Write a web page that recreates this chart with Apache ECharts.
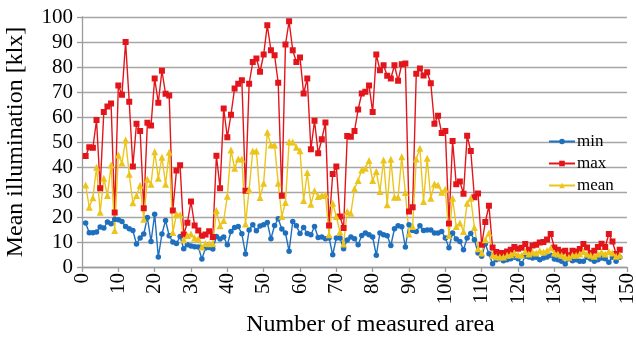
<!DOCTYPE html>
<html>
<head>
<meta charset="utf-8">
<script src="https://cdn.jsdelivr.net/npm/echarts@6/dist/echarts.min.js"></script>
<style>
  html, body { margin: 0; padding: 0; background: #ffffff; }
  #chart { width: 636px; height: 339px; }
</style>
</head>
<body>
<div id="chart"></div>
<script>
// Minimum illuminance per measured area [klx], areas 1..148
const minValues = [
  17.6, 13.7, 13.7, 14.0, 16.0, 15.6, 18.0, 17.3, 19.1, 18.9,
  18.2, 16.2, 15.3, 14.6, 9.2, 11.6, 13.2, 19.8, 10.2, 21.1,
  4.0, 13.2, 18.6, 12.5, 10.0, 9.4, 12.2, 7.3, 8.9, 8.4,
  8.1, 8.0, 3.2, 7.6, 7.8, 7.2, 12.2, 11.2, 12.0, 8.9,
  14.2, 15.8, 16.2, 13.3, 5.2, 14.8, 16.9, 14.5, 16.4, 16.9,
  17.8, 11.3, 16.6, 19.3, 15.2, 13.6, 6.3, 18.2, 16.5, 13.4,
  15.8, 13.4, 12.9, 16.2, 11.8, 12.0, 11.3, 11.6, 4.9, 11.6,
  11.6, 7.3, 10.8, 12.0, 11.3, 8.9, 12.6, 13.6, 12.9, 12.0,
  4.7, 13.6, 12.9, 12.5, 8.6, 15.3, 16.5, 16.1, 8.0, 16.9,
  14.6, 14.2, 16.5, 14.6, 14.8, 14.8, 13.6, 13.6, 14.2, 11.6,
  7.7, 13.6, 11.2, 10.2, 6.9, 11.6, 13.4, 10.9, 5.6, 4.3,
  9.2, 5.3, 1.3, 2.9, 3.3, 2.5, 2.9, 3.3, 3.9, 3.3,
  1.3, 4.3, 4.0, 3.6, 3.9, 2.9, 3.6, 4.0, 4.7, 3.2,
  2.9, 2.3, 1.2, 3.3, 2.5, 2.9, 2.3, 2.3, 3.9, 3.2,
  2.3, 2.9, 3.6, 3.3, 1.9, 3.9, 2.3, 3.9
];

// Maximum illuminance per measured area [klx]
const maxValues = [
  44.4, 47.9, 47.7, 58.8, 31.5, 62.0, 64.2, 65.4, 21.8, 72.6,
  68.9, 90.0, 66.1, 40.2, 57.3, 54.4, 23.5, 57.7, 56.6, 75.4,
  65.7, 78.5, 69.3, 68.6, 22.6, 38.6, 40.7, 13.0, 17.7, 26.2,
  16.6, 14.6, 12.5, 13.0, 14.3, 12.0, 44.5, 31.5, 63.4, 51.9,
  60.9, 71.4, 73.3, 74.7, 30.5, 73.3, 82.0, 83.4, 78.1, 85.0,
  96.7, 86.7, 84.7, 73.7, 28.5, 89.0, 98.3, 86.7, 82.0, 83.8,
  69.4, 75.4, 47.1, 58.5, 45.5, 51.1, 57.8, 16.6, 37.2, 40.2,
  20.2, 15.6, 52.4, 52.1, 54.4, 63.0, 69.4, 70.1, 72.6, 62.0,
  85.0, 78.7, 80.7, 76.5, 75.4, 80.7, 74.5, 81.1, 81.4, 22.2,
  23.9, 77.3, 79.4, 76.6, 77.9, 73.5, 57.3, 60.5, 53.6, 54.4,
  17.4, 50.4, 33.1, 34.2, 29.3, 52.5, 46.4, 27.9, 29.4, 8.9,
  18.0, 24.5, 7.8, 6.0, 5.6, 5.6, 6.2, 6.9, 8.0, 7.3,
  7.7, 9.2, 6.9, 8.6, 8.9, 9.8, 10.0, 11.0, 13.2, 7.8,
  6.9, 6.1, 6.5, 4.7, 6.5, 6.2, 7.2, 9.2, 7.8, 5.6,
  6.5, 8.0, 9.3, 8.0, 13.2, 10.2, 5.2, 6.9
];

// Mean illuminance per measured area [klx]
const meanValues = [
  32.8, 23.9, 27.7, 39.9, 21.9, 35.5, 28.6, 40.8, 14.6, 44.8,
  41.6, 50.8, 37.1, 25.7, 28.6, 32.7, 19.1, 35.1, 33.1, 46.1,
  35.5, 43.9, 33.1, 45.9, 13.8, 21.1, 20.9, 10.9, 12.6, 13.2,
  11.6, 11.3, 8.0, 9.4, 9.3, 9.4, 22.6, 16.5, 18.6, 28.3,
  46.8, 39.5, 43.2, 43.2, 17.2, 30.9, 46.4, 46.4, 27.8, 33.5,
  53.9, 48.8, 48.8, 33.5, 20.2, 25.8, 50.1, 50.0, 47.9, 46.5,
  26.6, 37.8, 25.1, 30.5, 28.2, 28.6, 28.9, 12.9, 25.5, 20.2,
  14.0, 9.2, 22.2, 21.5, 31.3, 34.6, 38.8, 39.5, 42.6, 34.6,
  38.2, 30.2, 42.8, 24.9, 43.1, 27.9, 27.9, 44.1, 29.8, 13.2,
  16.2, 43.2, 47.5, 26.2, 43.5, 27.5, 33.2, 32.8, 29.9, 31.1,
  12.6, 27.5, 16.2, 17.6, 14.2, 25.5, 27.5, 15.8, 7.3, 5.6,
  10.9, 13.6, 4.7, 4.1, 4.0, 4.0, 4.7, 4.9, 5.6, 4.9,
  4.7, 6.2, 5.2, 6.0, 5.6, 6.5, 6.0, 6.6, 7.6, 5.6,
  5.2, 4.7, 4.0, 3.9, 4.7, 4.7, 5.2, 6.2, 5.2, 4.7,
  4.3, 5.2, 6.0, 5.2, 6.2, 5.6, 4.3, 4.7
];

// Axis ticks
const xTicks = { min: 0, max: 150, step: 10 };
const yTicks = { min: 0, max: 100, step: 10 };

const serif = '"Liberation Serif", "Times New Roman", serif';

// area number (1-based) paired with its value
function pairs(values) {
  return values.map((v, k) => [k + 1, v]);
}

function lineSeries(name, values, color, symbol, size) {
  return {
    name: name,
    type: 'line',
    data: pairs(values),
    symbol: symbol,
    symbolSize: size,
    showSymbol: true,
    lineStyle: { color: color, width: 1.4 },
    itemStyle: { color: color, borderWidth: 0 },
    emphasis: { disabled: true },
    animation: false
  };
}

const chart = echarts.init(document.getElementById('chart'), null, { renderer: 'canvas' });

chart.setOption({
  backgroundColor: '#ffffff',
  animation: false,
  textStyle: { fontFamily: serif, color: '#000' },
  grid: {
    left: 82, right: 9, top: 17, bottom: 72,
    containLabel: false,
    outerBoundsMode: 'none'
  },
  legend: {
    orient: 'vertical',
    left: 543,
    top: 128,
    itemWidth: 26,
    itemHeight: 7,
    itemGap: 5,
    textStyle: { fontFamily: serif, fontSize: 17, color: '#000', padding: [0, 0, 0, -3] },
    data: ['min', 'max', 'mean']
  },
  xAxis: {
    type: 'value',
    min: xTicks.min,
    max: xTicks.max,
    interval: xTicks.step,
    name: 'Number of measured area',
    nameLocation: 'middle',
    nameGap: 46,
    nameTextStyle: { fontFamily: serif, fontSize: 24, color: '#000', padding: [0, 0, 0, 32] },
    axisLine: { show: true, lineStyle: { color: '#9a9a9a', width: 1.3 } },
    axisTick: { show: true, length: 5, lineStyle: { color: '#9a9a9a', width: 1.3 } },
    axisLabel: { rotate: 90, fontFamily: serif, fontSize: 21, color: '#000', margin: 6 },
    splitLine: { show: false }
  },
  yAxis: {
    type: 'value',
    min: yTicks.min,
    max: yTicks.max,
    interval: yTicks.step,
    name: 'Mean illumination [klx]',
    nameLocation: 'middle',
    nameGap: 54,
    nameTextStyle: { fontFamily: serif, fontSize: 24, color: '#000' },
    axisLine: { show: true, lineStyle: { color: '#9a9a9a', width: 1.3 } },
    axisTick: { show: true, length: 5, lineStyle: { color: '#9a9a9a', width: 1.3 } },
    axisLabel: { fontFamily: serif, fontSize: 21, color: '#000', margin: 9 },
    splitLine: { show: true, lineStyle: { color: '#a6a6a6', width: 1.3 } }
  },
  series: [
    lineSeries('min', minValues, '#1f6fbf', 'circle', 5.5),
    lineSeries('max', maxValues, '#e3151b', 'rect', 6),
    lineSeries('mean', meanValues, '#ecc51c', 'triangle', 7)
  ]
});
</script>
</body>
</html>
